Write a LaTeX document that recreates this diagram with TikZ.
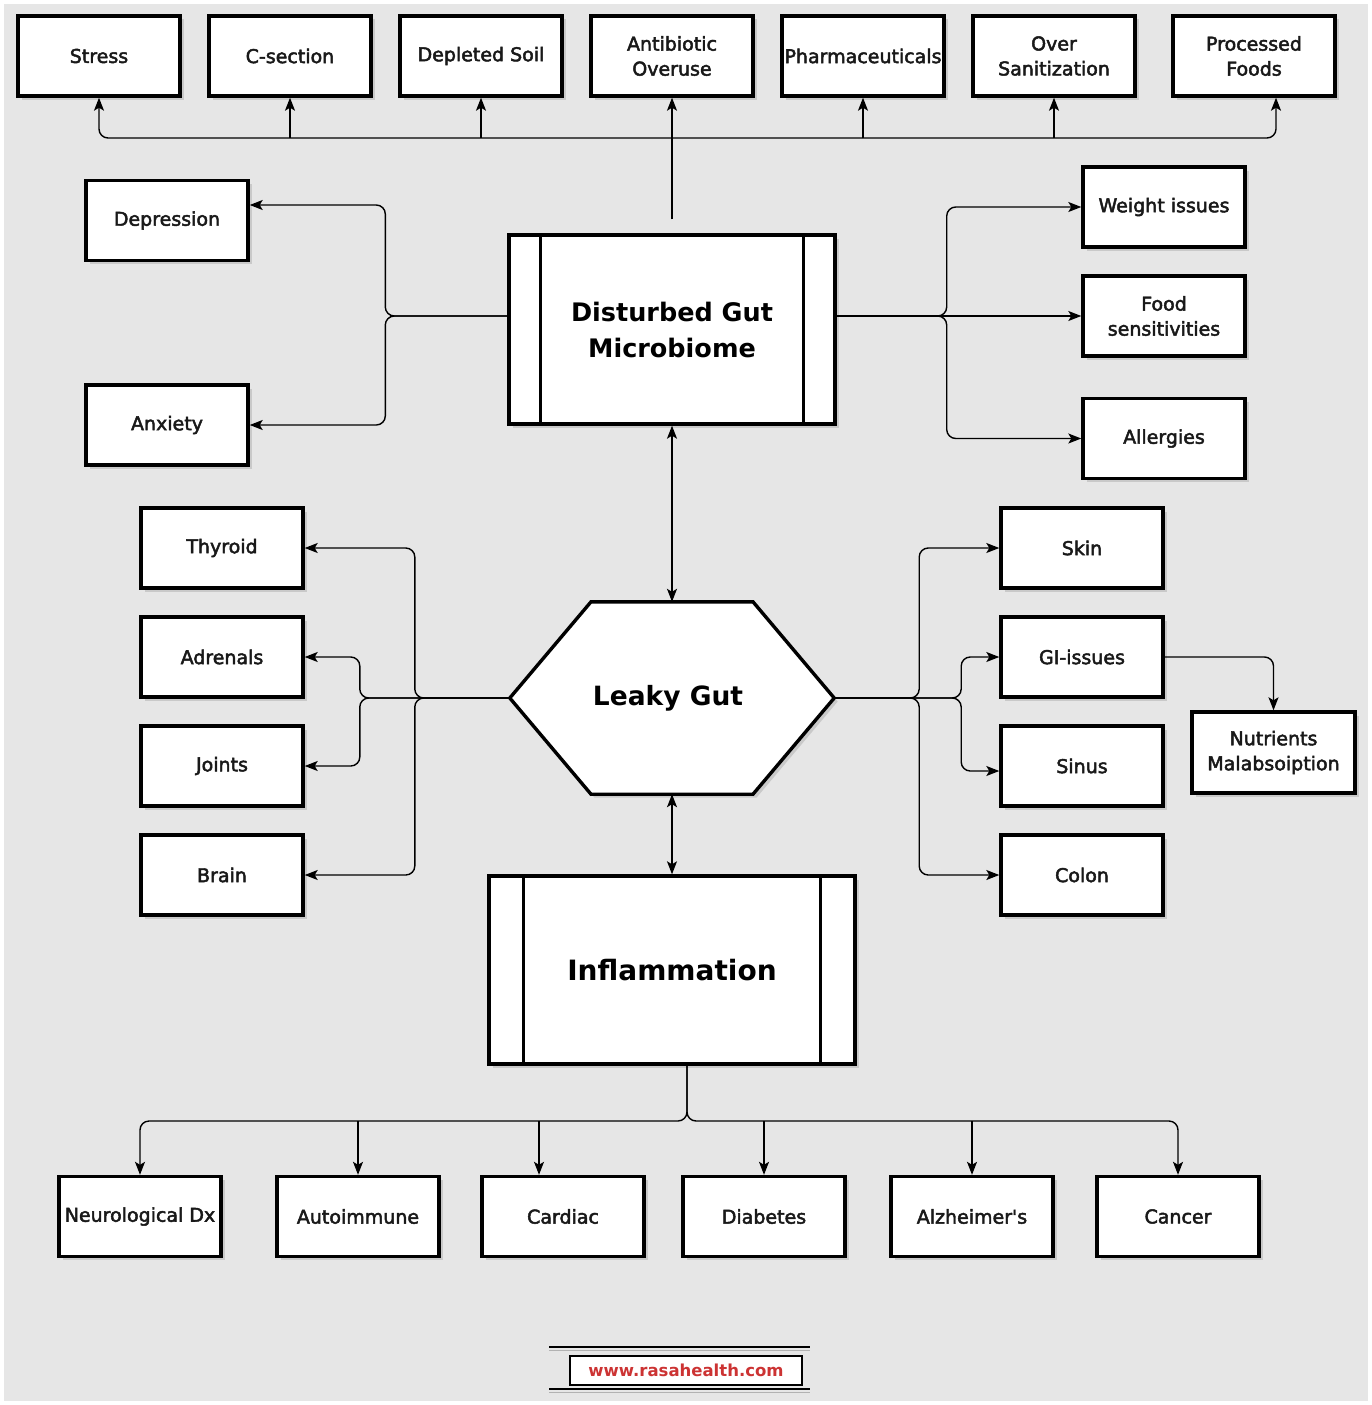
\documentclass[tikz,border=0pt]{standalone}
\usepackage{fontspec}
\setmainfont{DejaVu Sans}
\font\mylblraw="DejaVu Sans:embolden=2.5" at 19pt
\usetikzlibrary{arrows.meta,shadows,calc}
\definecolor{bgc}{RGB}{230,230,230}
\definecolor{urlc}{RGB}{204,51,51}
\begin{document}
\begin{tikzpicture}[x=1pt,y=-1pt,
  shad/.style={drop shadow={shadow xshift=3.5pt, shadow yshift=-3.5pt, fill=black!32}},
  box/.style={draw=black, line width=3.4pt, fill=white, minimum width=162pt, minimum height=80pt,
    inner sep=0pt, align=center, text=black!90, shad,
    font={\mylblraw\baselineskip=25pt}},
  procbox/.style={draw=black, line width=3.4pt, fill=white, inner sep=0pt, align=center, shad},
  conn/.style={line width=1.4pt, draw=black, rounded corners=9pt},
  arr/.style={conn, -{Stealth[length=13pt,width=10pt,inset=3pt]}},
  dbl/.style={conn, {Stealth[length=13pt,width=10pt,inset=3pt]}-{Stealth[length=13pt,width=10pt,inset=3pt]}}
]
\useasboundingbox (0,0) rectangle (1371,1405);
\fill[white] (0,0) rectangle (1371,1405);
\fill[bgc] (4,4) rectangle (1368,1401);

% top row
\node[box] (stress) at (99,56) {Stress};
\node[box] (cs) at (290,56) {C-section};
\node[box] (soil) at (481,56) {Depleted Soil};
\node[box] (anti) at (672,56) {Antibiotic\\Overuse};
\node[box] (pharm) at (863,56) {Pharmaceuticals};
\node[box] (oversan) at (1054,56) {Over\\Sanitization};
\node[box] (proc) at (1254,56) {Processed\\Foods};

% left/right of DGM
\node[box] (dep) at (167,220.5) {Depression};
\node[box] (anx) at (167,425) {Anxiety};
\node[box] (wt) at (1164,207) {Weight issues};
\node[box] (food) at (1164,316) {Food\\sensitivities};
\node[box] (all) at (1164,438.5) {Allergies};

% Disturbed Gut Microbiome
\node[procbox, minimum width=326pt, minimum height=189pt,
  font=\bfseries\fontsize{25.5}{36}\selectfont] (dgm) at (672,329.5) {Disturbed Gut\\Microbiome};
\draw[line width=3.4pt] ($(dgm.north west)+(33,0)$) -- ($(dgm.south west)+(33,0)$);
\draw[line width=3.4pt] ($(dgm.north east)+(-33,0)$) -- ($(dgm.south east)+(-33,0)$);

% Leaky Gut hexagon
\node[minimum width=324pt, minimum height=192pt, inner sep=0pt] (lg) at (672,698) {};
\draw[line width=3.4pt, fill=white, shad, line join=miter] (lg.west) -- ($(lg.north)+(-81,0)$) -- ($(lg.north)+(81,0)$)
  -- (lg.east) -- ($(lg.south)+(81,0)$) -- ($(lg.south)+(-81,0)$) -- cycle;
\node[font=\bfseries\fontsize{26.5}{32}\selectfont] (lgt) at (668,698) {Leaky Gut};

\node[box] (thy) at (222,548) {Thyroid};
\node[box] (adr) at (222,657) {Adrenals};
\node[box] (joi) at (222,766) {Joints};
\node[box] (brn) at (222,875) {Brain};
\node[box] (skin) at (1082,548) {Skin};
\node[box] (gi) at (1082,657) {GI-issues};
\node[box] (sin) at (1082,766) {Sinus};
\node[box] (col) at (1082,875) {Colon};
\node[box, minimum width=163pt, minimum height=81pt] (nut) at (1273.5,752.5) {Nutrients\\Malabsoiption};

% Inflammation
\node[procbox, minimum width=366pt, minimum height=188pt,
  font=\bfseries\fontsize{28}{34}\selectfont] (infl) at (672,970) {Inflammation};
\draw[line width=3.4pt] ($(infl.north west)+(36,0)$) -- ($(infl.south west)+(36,0)$);
\draw[line width=3.4pt] ($(infl.north east)+(-36,0)$) -- ($(infl.south east)+(-36,0)$);

% bottom row
\node[box] (neu) at (140,1216.5) {Neurological Dx};
\node[box] (aut) at (358,1216.5) {Autoimmune};
\node[box] (car) at (563,1216.5) {Cardiac};
\node[box] (dia) at (764,1216.5) {Diabetes};
\node[box] (alz) at (972,1216.5) {Alzheimer's};
\node[box] (can) at (1178,1216.5) {Cancer};

% ---- connectors: top
\coordinate (dgtop) at ($(dgm.north)+(0,-14)$);
\coordinate (busy) at (0,138);
\coordinate (bus) at (dgtop |- busy);
\coordinate (procin) at ($(proc.south)+(22,0)$);
\draw[arr] (dgtop) -- (anti.south);
\draw[arr] (bus) -| (stress.south);
\draw[arr] (bus) -| (procin);
\draw[arr] (cs.south |- busy) -- (cs.south);
\draw[arr] (soil.south |- busy) -- (soil.south);
\draw[arr] (pharm.south |- busy) -- (pharm.south);
\draw[arr] (oversan.south |- busy) -- (oversan.south);

% DGM left
\coordinate (dgW) at (dgm.west |- food);
\coordinate (dgE) at (dgm.east |- food);
\coordinate (dgL) at ($(dgW)+(-122,0)$);
\coordinate (dgR) at ($(dgE)+(110,0)$);
\coordinate (depin) at ($(dep.east)+(0,-15.5)$);
\draw[arr] (dgW) -- (dgL) |- (depin);
\draw[arr] (dgW) -- (dgL) |- (anx.east);
% DGM right
\draw[arr] (dgE) -- (dgR) |- (wt.west);
\draw[arr] (dgE) -- (food.west);
\draw[arr] (dgE) -- (dgR) |- (all.west);

% vertical double arrows
\draw[dbl] (dgm.south) -- (lg.north);
\draw[dbl] (lg.south) -- (infl.north);

% Leaky left
\coordinate (lgL1) at ($(lg.west)+(-95,0)$);
\coordinate (lgL2) at ($(lg.west)+(-150,0)$);
\draw[arr] (lg.west) -- (lgL1) |- (thy.east);
\draw[arr] (lg.west) -- (lgL1) |- (brn.east);
\draw[arr] (lg.west) -- (lgL2) |- (adr.east);
\draw[arr] (lg.west) -- (lgL2) |- (joi.east);
% Leaky right
\coordinate (lgR1) at ($(lg.east)+(85,0)$);
\coordinate (lgR2) at ($(lg.east)+(127,0)$);
\coordinate (sinin) at ($(sin.west)+(0,5)$);
\draw[arr] (lg.east) -- (lgR1) |- (skin.west);
\draw[arr] (lg.east) -- (lgR1) |- (col.west);
\draw[arr] (lg.east) -- (lgR2) |- (gi.west);
\draw[arr] (lg.east) -- (lgR2) |- (sinin);
\draw[arr] (gi.east) -| (nut.north);

% bottom
\coordinate (ib) at ($(infl.south)+(15,0)$);
\coordinate (bby) at (0,1121);
\coordinate (bb) at (ib |- bby);
\coordinate (carin) at ($(car.north)+(-24,0)$);
\draw[arr] (ib) -- (bb) -| (neu.north);
\draw[arr] (ib) -- (bb) -| (can.north);
\draw[arr] (aut.north |- bby) -- (aut.north);
\draw[arr] (carin |- bby) -- (carin);
\draw[arr] (dia.north |- bby) -- (dia.north);
\draw[arr] (alz.north |- bby) -- (alz.north);

% footer
\draw[black, line width=1.4pt] (549,1347) -- (810,1347);
\draw[black!30, line width=1.4pt] (549,1350.5) -- (810,1350.5);
\draw[black, line width=1.4pt] (549,1389) -- (810,1389);
\draw[black!30, line width=1.4pt] (549,1392.5) -- (810,1392.5);
\node[draw=black, line width=1.2pt, fill=white, minimum width=232pt, minimum height=29pt, inner sep=0pt,
  text=urlc, font=\bfseries\fontsize{16.5}{20}\selectfont] (web) at (686,1370.5) {www.rasahealth.com};
\end{tikzpicture}
\end{document}
